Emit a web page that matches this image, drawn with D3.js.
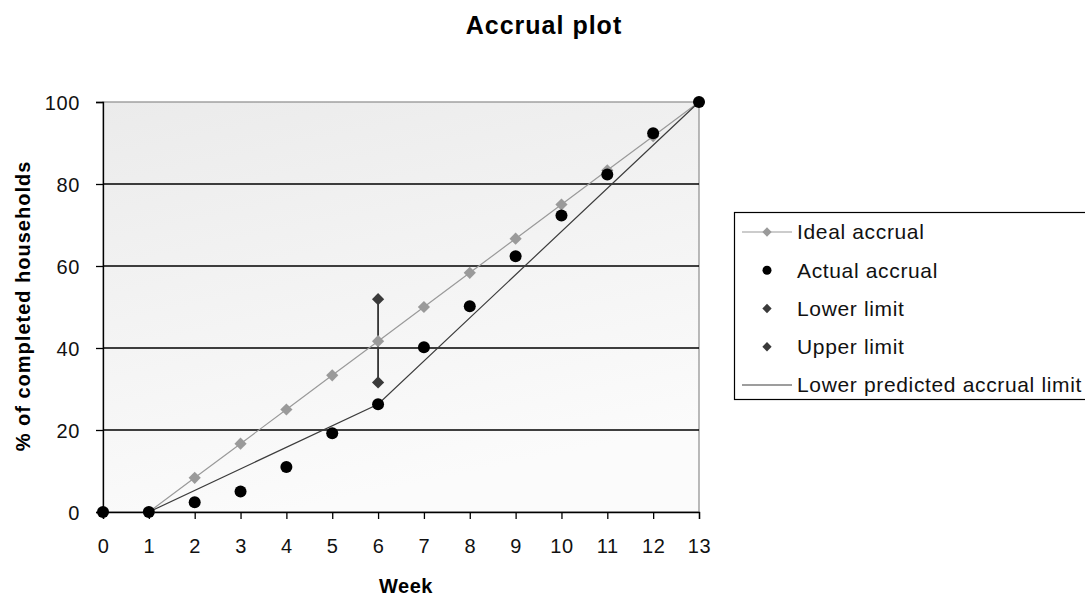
<!DOCTYPE html>
<html>
<head>
<meta charset="utf-8">
<script src="https://cdn.jsdelivr.net/npm/d3@7"></script>
<style>
  html, body { margin: 0; padding: 0; background: #fff; overflow: hidden; }
  svg { display: block; font-family: "Liberation Sans", Arial, sans-serif; }
</style>
</head>
<body>
<svg id="chart" width="1085" height="596"></svg>
<script>
// Weekly accrual data (% of completed households)
const weeks = [0, 1, 2, 3, 4, 5, 6, 7, 8, 9, 10, 11, 12, 13];
const actualAccrual = [0, 0, 2.4, 5.0, 11.0, 19.2, 26.3, 40.2, 50.2, 62.4, 72.3, 82.3, 92.4, 100];

const idealWeeks = [1, 2, 3, 4, 5, 6, 7, 8, 9, 10, 11, 12, 13];
const idealAccrual = [0, 8.33, 16.67, 25, 33.33, 41.67, 50, 58.33, 66.67, 75, 83.33, 91.67, 100];

const limitWeek = 6;
const lowerLimit = 31.6;
const upperLimit = 51.9;

const predictedWeeks = [1, 6, 13];
const lowerPredicted = [0, 26.3, 100];

const xTicks = [0, 1, 2, 3, 4, 5, 6, 7, 8, 9, 10, 11, 12, 13];
const yTicks = [0, 20, 40, 60, 80, 100];

const legendLabels = ["Ideal accrual", "Actual accrual", "Lower limit", "Upper limit", "Lower predicted accrual limit"];

const svg = d3.select("#chart");
const plot = { left: 103, right: 699, top: 102, bottom: 512 };

const x = d3.scaleLinear().domain([0, 13]).range([plot.left, plot.right]);
const y = d3.scaleLinear().domain([0, 100]).range([plot.bottom, plot.top]);

// Plot area background
const defs = svg.append("defs");
const grad = defs.append("linearGradient").attr("id", "bg")
  .attr("x1", "0").attr("y1", "0").attr("x2", "0.3").attr("y2", "1");
grad.append("stop").attr("offset", "0").attr("stop-color", "#ebebeb");
grad.append("stop").attr("offset", "1").attr("stop-color", "#fbfbfb");

svg.append("rect")
  .attr("x", plot.left).attr("y", plot.top)
  .attr("width", plot.right - plot.left).attr("height", plot.bottom - plot.top)
  .attr("fill", "url(#bg)")
  .attr("stroke", "#8c8c8c").attr("stroke-width", 1.2);

// Horizontal gridlines
svg.append("g")
  .selectAll("line")
  .data(yTicks.filter(d => d > 0 && d < 100))
  .join("line")
  .attr("x1", plot.left).attr("x2", plot.right)
  .attr("y1", d => y(d)).attr("y2", d => y(d))
  .attr("stroke", "#000").attr("stroke-width", 1.3);

// Axes
const xAxis = svg.append("g")
  .attr("transform", `translate(0,${plot.bottom})`)
  .call(d3.axisBottom(x).tickValues(xTicks).tickSize(7).tickPadding(20).tickFormat(d3.format("d")));
const yAxis = svg.append("g")
  .attr("transform", `translate(${plot.left},0)`)
  .call(d3.axisLeft(y).tickValues(yTicks).tickSize(7).tickPadding(16).tickFormat(d3.format("d")));

[xAxis, yAxis].forEach(g => {
  g.select(".domain").attr("stroke", "#000").attr("stroke-width", 1.3);
  g.selectAll(".tick line").attr("stroke", "#000").attr("stroke-width", 1.3);
  g.selectAll(".tick text")
    .attr("fill", "#111")
    .style("font-size", "20px")
    .style("letter-spacing", "0.6px")
    .style("font-family", '"Liberation Sans", Arial, sans-serif');
});
yAxis.selectAll(".tick text").attr("dy", "0.35em");

const line = d3.line().x(d => x(d[0])).y(d => y(d[1]));

// Ideal accrual line
svg.append("path")
  .datum(d3.zip(idealWeeks, idealAccrual))
  .attr("d", line)
  .attr("fill", "none")
  .attr("stroke", "#9a9a9a")
  .attr("stroke-width", 1.2);

// Lower predicted accrual limit line
svg.append("path")
  .datum(d3.zip(predictedWeeks, lowerPredicted))
  .attr("d", line)
  .attr("fill", "none")
  .attr("stroke", "#3c3c3c")
  .attr("stroke-width", 1.2);

// Limit range at week 6
svg.append("line")
  .attr("x1", x(limitWeek)).attr("x2", x(limitWeek))
  .attr("y1", y(lowerLimit)).attr("y2", y(upperLimit))
  .attr("stroke", "#333").attr("stroke-width", 1.8);

const diamond = d3.symbol().type(d3.symbolDiamond2).size(95);
const diamondSmall = d3.symbol().type(d3.symbolDiamond2).size(55);

// Ideal accrual markers
svg.append("g")
  .selectAll("path")
  .data(d3.zip(idealWeeks, idealAccrual))
  .join("path")
  .attr("d", diamond)
  .attr("transform", d => `translate(${x(d[0])},${y(d[1])})`)
  .attr("fill", "#9a9a9a");

// Limit markers
svg.append("g")
  .selectAll("path")
  .data([lowerLimit, upperLimit])
  .join("path")
  .attr("d", diamond)
  .attr("transform", d => `translate(${x(limitWeek)},${y(d)})`)
  .attr("fill", "#3a3a3a");

// Actual accrual markers
svg.append("g")
  .selectAll("circle")
  .data(d3.zip(weeks, actualAccrual))
  .join("circle")
  .attr("cx", d => x(d[0]))
  .attr("cy", d => y(d[1]))
  .attr("r", 6)
  .attr("fill", "#000");

// Title and axis titles
svg.append("text")
  .attr("x", 544).attr("y", 34)
  .attr("text-anchor", "middle")
  .style("font-size", "25px").style("font-weight", "bold").style("letter-spacing", "1px")
  .text("Accrual plot");

svg.append("text")
  .attr("x", (plot.left + plot.right) / 2 + 5).attr("y", 593)
  .attr("text-anchor", "middle")
  .style("font-size", "20px").style("font-weight", "bold").style("letter-spacing", "0.5px")
  .text("Week");

svg.append("text")
  .attr("transform", "translate(30,306) rotate(-90)")
  .attr("text-anchor", "middle")
  .style("font-size", "20px").style("font-weight", "bold").style("letter-spacing", "1px")
  .text("% of completed households");

// Legend
const legend = svg.append("g");
legend.append("rect")
  .attr("x", 734.5).attr("y", 212.5)
  .attr("width", 400).attr("height", 187)
  .attr("fill", "#fff").attr("stroke", "#000").attr("stroke-width", 1.2);

const rowY = d3.scalePoint().domain(legendLabels).range([232, 385]);
const symX = 767;

legend.selectAll("text")
  .data(legendLabels)
  .join("text")
  .attr("x", 797)
  .attr("y", d => rowY(d))
  .attr("dy", "0.35em")
  .style("font-size", "21px")
  .style("letter-spacing", "0.65px")
  .attr("fill", "#111")
  .text(d => d);

// Legend keys
const idealKey = legendLabels[0], actualKey = legendLabels[1], lowKey = legendLabels[2], upKey = legendLabels[3], predKey = legendLabels[4];
legend.append("line")
  .attr("x1", 742).attr("x2", 792).attr("y1", rowY(idealKey)).attr("y2", rowY(idealKey))
  .attr("stroke", "#9a9a9a").attr("stroke-width", 1.2);
legend.append("path")
  .attr("d", diamondSmall)
  .attr("transform", `translate(${symX},${rowY(idealKey)})`)
  .attr("fill", "#9a9a9a");
legend.append("circle")
  .attr("cx", symX).attr("cy", rowY(actualKey)).attr("r", 4.5)
  .attr("fill", "#000");
[lowKey, upKey].forEach(k => {
  legend.append("path")
    .attr("d", diamondSmall)
    .attr("transform", `translate(${symX},${rowY(k)})`)
    .attr("fill", "#3a3a3a");
});
legend.append("line")
  .attr("x1", 742).attr("x2", 792).attr("y1", rowY(predKey)).attr("y2", rowY(predKey))
  .attr("stroke", "#3c3c3c").attr("stroke-width", 1.2);
</script>
</body>
</html>
